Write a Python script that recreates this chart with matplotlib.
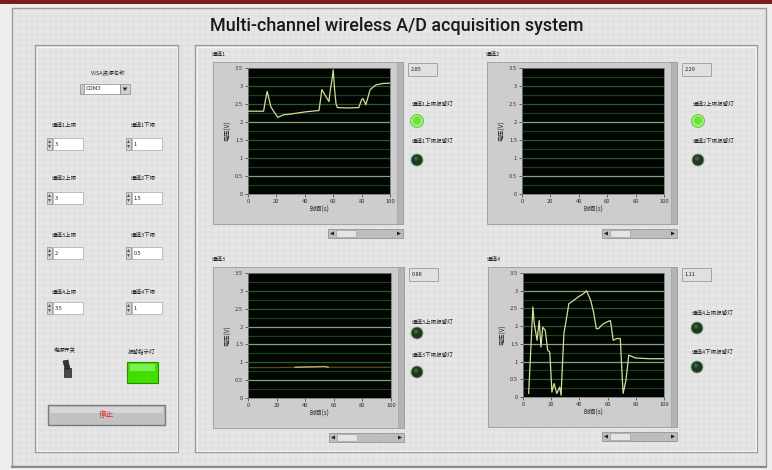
import matplotlib
matplotlib.use('Agg')
import matplotlib.pyplot as plt
from matplotlib.patches import Rectangle, Circle, Polygon
import numpy as np

W, H = 772, 470
CJK = ['Noto Sans CJK SC', 'DejaVu Sans']
plt.rcParams['font.family'] = CJK

# ---------------- data ----------------
title = "Multi-channel wireless A/D acquisition system"
channel_names = ["通道1", "通道2", "通道3", "通道4"]
x_label = "时间(s)"
y_label = "电压(V)"
x_ticks = [0, 20, 40, 60, 80, 100]
y_ticks = [0, 0.5, 1, 1.5, 2, 2.5, 3, 3.5]
readouts = ["2.85", "2.29", "0.88", "1.11"]
upper_led_on = [True, True, False, False]
lower_led_on = [False, False, False, False]
upper_limits = ["3", "3", "2", "3.5"]
lower_limits = ["1", "1.5", "0.5", "1"]
visa_label = "VISA资源名称"
visa_value = "COM3"
power_label = "电源开关"
alarm_label = "报警指示灯"
stop_label = "停止"

ch1_t = [0, 11, 12, 13.5, 15, 16, 18, 21, 25, 30, 35, 40, 45, 50, 51, 52, 53.5,
         55, 57, 58, 59, 60, 61, 62, 63, 70, 78, 80, 81, 83, 86, 90, 95, 100]
ch1_v = [2.3, 2.3, 2.55, 2.85, 2.6, 2.43, 2.3, 2.13, 2.2, 2.22, 2.25, 2.28, 2.3,
         2.32, 2.6, 2.9, 2.8, 2.7, 2.57, 2.9, 3.13, 3.45, 2.9, 2.5, 2.4, 2.39,
         2.4, 2.62, 2.65, 2.48, 2.9, 3.03, 3.07, 3.08]
ch2_t = []
ch2_v = []
ch3_t = [0, 20, 33, 44, 54, 56, 80, 100]
ch3_v = [0.85, 0.85, 0.86, 0.87, 0.88, 0.86, 0.86, 0.86]
ch4_t = [4, 7, 8, 10, 11.5, 12.7, 14, 15.8, 17.5, 19, 20.5, 22, 24, 26, 27, 29,
         31, 32.5, 36, 39, 43, 45, 48, 50, 52, 53.5, 57, 62, 64, 66.5, 69, 70,
         71, 73, 75, 80, 90, 100]
ch4_v = [0.1, 2.54, 2.07, 1.6, 2.16, 1.41, 1.97, 1.88, 1.32, 1.27, 0.14, 0.38,
         0.1, 0.28, 0.05, 1.79, 2.26, 2.63, 2.73, 2.82, 2.92, 3.0, 2.73, 2.4,
         1.93, 1.93, 2.07, 2.16, 1.6, 1.65, 1.65, 0.85, 0.1, 0.47, 1.18, 1.1,
         1.08, 1.08]
traces = [(ch1_t, ch1_v), (ch2_t, ch2_v), (ch3_t, ch3_v), (ch4_t, ch4_v)]
bright_grid = [[2.0, 0.5], [2.0, 0.5], [2.0, 1.5, 0.5], [3.0, 1.5, 1.0]]

# ---------------- layout ----------------
fig = plt.figure(figsize=(W / 100, H / 100), dpi=100)
bg = fig.add_axes([0, 0, 1, 1])
bg.set_xlim(0, W)
bg.set_ylim(H, 0)
bg.axis('off')


def rect(x0, y0, x1, y1, fc, ec='none', lw=0.6, z=1):
    bg.add_patch(Rectangle((x0, y0), x1 - x0, y1 - y0, facecolor=fc,
                           edgecolor=ec, lw=lw, zorder=z))


def txt(x, y, s, size=4.2, ha='center', color='#222222', z=5, **kw):
    bg.text(x, y, s, fontsize=size, ha=ha, va='center', color=color,
            zorder=z, family=CJK, **kw)


# outer background
rect(0, 0, W, H, '#eeeeee', z=0)
rect(0, 0, W, 4, '#7a1e1e', z=1)
rect(12, 8, 766, 466, '#e6e6e6', ec='#9a9a9a', lw=1.0, z=0.5)
for gx in np.arange(14, 766, 6):
    bg.plot([gx, gx], [9, 465], color='#d8d8d8', lw=0.35, zorder=0.6)
for gy in np.arange(10, 466, 6):
    bg.plot([13, 765], [gy, gy], color='#d8d8d8', lw=0.35, zorder=0.6)
bg.plot([12, 766], [467, 467], color='#8a8a8a', lw=1.5, zorder=1)

# title
bg.text(397, 26, title, fontsize=13, ha='center', va='center',
        color='#1a1a1a', family=['Roboto', 'DejaVu Sans'], weight='medium',
        zorder=5)

# panels
for (x0, y0, x1, y1) in [(35, 45, 178, 452), (195, 45, 757, 452)]:
    rect(x0, y0, x1, y1, 'none', ec='#9a9a9a', lw=0.9, z=1)
    rect(x0 + 1.5, y0 + 1.5, x1 - 1.5, y1 - 1.5, 'none', ec='#fafafa',
         lw=0.6, z=1)

# ---- left panel controls ----
txt(108, 73, visa_label, size=4)
rect(80, 84, 84, 94, '#c8c8c8', ec='#8a8a8a', lw=0.5, z=2)
rect(84, 84, 120, 94, '#ffffff', ec='#8a8a8a', lw=0.5, z=2)
txt(86, 89, visa_value, size=4, ha='left')
rect(120, 84, 130, 94, '#cfcfcf', ec='#8a8a8a', lw=0.5, z=2)
bg.add_patch(Polygon([[122.5, 87.5], [127.5, 87.5], [125, 91]], closed=True,
                     fc='#333333', ec='none', zorder=3))


def numeric(x, y, val):
    rect(x, y, x + 5, y + 12, '#d4d4d4', ec='#8a8a8a', lw=0.5, z=2)
    bg.add_patch(Polygon([[x + 1, y + 5], [x + 4, y + 5], [x + 2.5, y + 2]],
                         closed=True, fc='#555555', ec='none', zorder=3))
    bg.add_patch(Polygon([[x + 1, y + 7], [x + 4, y + 7], [x + 2.5, y + 10]],
                         closed=True, fc='#555555', ec='none', zorder=3))
    rect(x + 6, y, x + 36, y + 12, '#ffffff', ec='#a8a8a8', lw=0.5, z=2)
    txt(x + 8, y + 6.2, val, size=4, ha='left')


row_label_y = [125, 178, 235, 292]
row_box_y = [138, 192, 247, 302]
for i in range(4):
    txt(64, row_label_y[i], f"{channel_names[i]}上限", size=4)
    txt(143, row_label_y[i], f"{channel_names[i]}下限", size=4)
    numeric(47, row_box_y[i], upper_limits[i])
    numeric(126, row_box_y[i], lower_limits[i])

# power switch
txt(64, 349, power_label, size=4)
rect(64, 368, 71, 377, '#4a4a4a', ec='#222222', lw=0.5, z=2)
bg.add_patch(Polygon([[65, 369], [63, 361], [68, 360], [70, 369]], closed=True,
                     fc='#333333', ec='#111111', lw=0.4, zorder=3))
# alarm indicator
txt(142, 351, alarm_label, size=4)
rect(127, 362, 158, 383, '#3fe000', ec='#2a8c00', lw=0.8, z=2)
rect(130, 364, 155, 371, '#7cf050', z=2.5)
# stop button
rect(48, 405, 165, 425, '#c2c2c2', ec='#7a7a7a', lw=1.0, z=2)
rect(50, 407, 163, 413, '#d6d6d6', z=2.2)
txt(106, 415, stop_label, size=5.5, color='#e02828')

# ---- graphs ----
plots = [(248, 68, 390, 194), (522, 68, 664, 194),
         (248, 273, 391, 398), (523, 273, 664, 397)]
led_x = [417, 698, 417, 697]
led_rows = [(104, 121, 141, 160), (104, 121, 141, 160),
            (322, 333, 355, 372), (313, 328, 352, 367)]

for i, (px0, py0, px1, py1) in enumerate(plots):
    fx0, fy0, fx1, fy1 = px0 - 35, py0 - 6, px1 + 13, py1 + 30
    # frame
    rect(fx0, fy0, fx1, fy1, '#cdcdcd', ec='#9a9a9a', lw=0.6, z=1.5)
    rect(fx1 - 6, fy0, fx1, fy1, '#b4b4b4', ec='#9a9a9a', lw=0.4, z=1.6)
    # label
    txt(px0 - 36, py0 - 14, channel_names[i], size=4, ha='left')
    # scrollbar
    sy0, sy1 = fy1 + 5, fy1 + 14
    sx0, sx1 = px1 - 62, fx1
    rect(sx0, sy0, sx1, sy1, '#bdbdbd', ec='#8a8a8a', lw=0.5, z=2)
    rect(sx0 + 8, sy0 + 1, sx0 + 28, sy1 - 1, '#e4e4e4', ec='#9a9a9a',
         lw=0.4, z=2.2)
    bg.add_patch(Polygon([[sx0 + 2, (sy0 + sy1) / 2], [sx0 + 6, sy0 + 2.5],
                          [sx0 + 6, sy1 - 2.5]], closed=True, fc='#222222',
                         ec='none', zorder=3))
    bg.add_patch(Polygon([[sx1 - 2, (sy0 + sy1) / 2], [sx1 - 6, sy0 + 2.5],
                          [sx1 - 6, sy1 - 2.5]], closed=True, fc='#222222',
                         ec='none', zorder=3))
    # readout
    rx = px1 + 18
    rect(rx, py0 - 5, rx + 29, py0 + 8, '#e0e0e0', ec='#9a9a9a', lw=0.6, z=2)
    txt(rx + 3, py0 + 1.5, readouts[i], size=4, ha='left')
    # LEDs
    lx = led_x[i]
    l1y, c1y, l2y, c2y = led_rows[i]
    txt(lx - 5, l1y, f"{channel_names[i]}上限报警灯", size=4, ha='left')
    txt(lx - 5, l2y, f"{channel_names[i]}下限报警灯", size=4, ha='left')
    for on, cy in [(upper_led_on[i], c1y), (lower_led_on[i], c2y)]:
        if on:
            bg.add_patch(Circle((lx, cy), 6.5, fc='#9df27a', ec='#5fbf3a',
                                lw=0.6, zorder=3))
            bg.add_patch(Circle((lx, cy - 0.5), 4.0, fc='#6ee03a', ec='none',
                                zorder=3.1))
        else:
            bg.add_patch(Circle((lx, cy), 6.0, fc='#1e3a1e', ec='#8aa88a',
                                lw=0.6, zorder=3))
            bg.add_patch(Circle((lx - 1, cy - 1.5), 2.2, fc='#3c5c3c',
                                ec='none', zorder=3.1))

    ax = fig.add_axes([px0 / W, 1 - py1 / H, (px1 - px0) / W, (py1 - py0) / H])
    ax.set_zorder(4)
    ax.set_facecolor('#020602')
    ax.set_xlim(0, 100)
    ax.set_ylim(0, 3.5)
    for gy in np.arange(0.25, 3.5, 0.25):
        if any(abs(gy - b) < 1e-6 for b in bright_grid[i]):
            ax.axhline(gy, color='#7fa87a', lw=0.9, zorder=1)
        elif abs(gy * 2 - round(gy * 2)) < 1e-6:
            ax.axhline(gy, color='#2a5a2a', lw=0.9, zorder=1)
        else:
            ax.axhline(gy, color='#1b401b', lw=0.8, zorder=1)
    t, v = traces[i]
    if len(t):
        if i == 2:
            ax.plot(t, v, color='#5e5020', lw=0.8, zorder=3)
            tt = np.array(t)
            vv = np.array(v)
            m = (tt >= 33) & (tt <= 56)
            ax.plot(tt[m], vv[m], color='#c8b060', lw=1.0, zorder=4)
        else:
            ax.plot(t, v, color='#d4dc9a', lw=0.9, zorder=3)
    ax.set_xticks(x_ticks)
    ax.set_yticks(y_ticks)
    ax.set_xticklabels([str(x) for x in x_ticks])
    ax.set_yticklabels(['0', '0.5', '1', '1.5', '2', '2.5', '3', '3.5'])
    ax.tick_params(labelsize=4.2, length=2, width=0.5, colors='#333333',
                   pad=1.5)
    for sp in ax.spines.values():
        sp.set_color('#7a7a7a')
        sp.set_linewidth(0.6)
    ax.set_xlabel(x_label, fontsize=4.5, labelpad=1.5, color='#222222',
                  family=CJK)
    ax.set_ylabel(y_label, fontsize=4.5, labelpad=2, color='#222222',
                  family=CJK)

fig.savefig('out.png', dpi=100)
